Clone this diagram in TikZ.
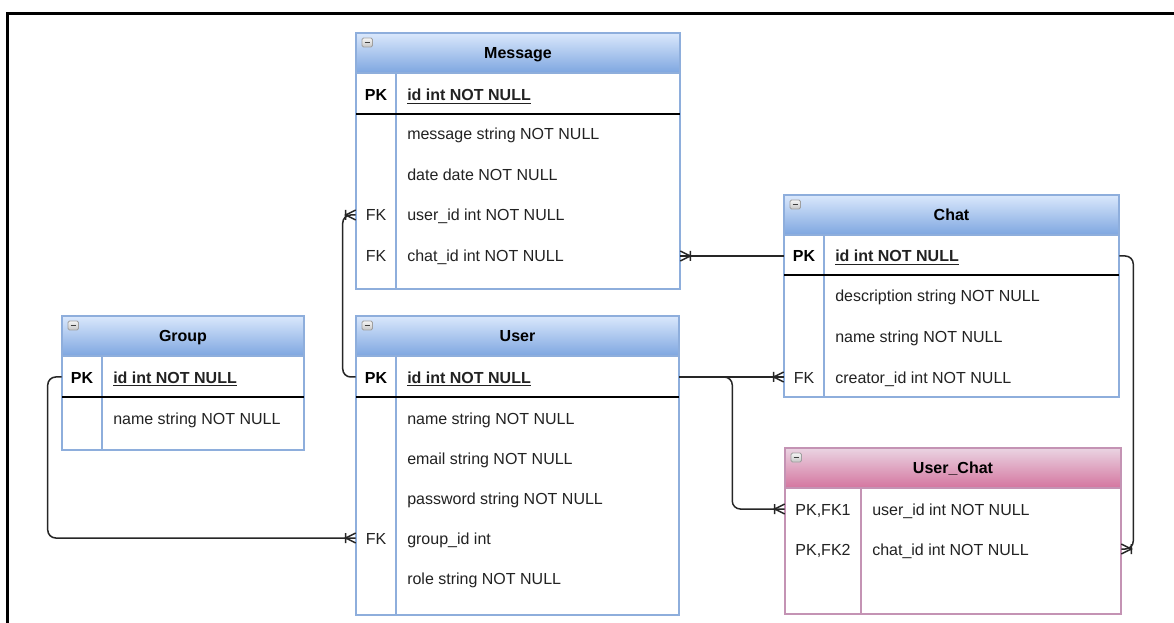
\documentclass[tikz,border=0pt]{standalone}
\usepackage{fontspec}
\setmainfont{Liberation Sans}
\newdimen\erpx \erpx=0.75pt

% crow's foot with a single bar (one-to-many end)
\pgfdeclarearrow{
  name = CrowBar,
  setup code = {
    \pgfarrowssettipend{0pt}
    \pgfarrowssetlineend{0pt}
    \pgfarrowssetbackend{-8pt}
    \pgfarrowssetvisualbackend{-8pt}
    \pgfarrowshullpoint{0pt}{4pt}
    \pgfarrowshullpoint{0pt}{-4pt}
    \pgfarrowshullpoint{-8pt}{4pt}
    \pgfarrowshullpoint{-8pt}{-4pt}
  },
  drawing code = {
    \pgfsetdash{}{0pt}
    \pgfpathmoveto{\pgfqpoint{0pt}{3.75pt}}
    \pgfpathlineto{\pgfqpoint{-7.5pt}{0pt}}
    \pgfpathlineto{\pgfqpoint{0pt}{-3.75pt}}
    \pgfpathmoveto{\pgfqpoint{-7.5pt}{3.75pt}}
    \pgfpathlineto{\pgfqpoint{-7.5pt}{-3.75pt}}
    \pgfusepathqstroke
  }
}

\definecolor{hdtop}{HTML}{DAE8FC}
\definecolor{hdbot}{HTML}{7EA6E0}
\definecolor{bluebd}{HTML}{8EAEDC}
\definecolor{pktop}{HTML}{EAD4E2}
\definecolor{pkbot}{HTML}{D4759F}
\definecolor{pinkbd}{HTML}{C493B4}
\definecolor{txt}{HTML}{222222}

\tikzset{
  hdr/.style={draw=bluebd, line width=1.5\erpx, top color=hdtop, bottom color=hdbot,
    font=\bfseries, text=black, inner sep=0pt, minimum height=40\erpx,
    text height=8.6pt, text depth=0pt},
  hdrpink/.style={hdr, draw=pinkbd, top color=pktop, bottom color=pkbot},
  body/.style={draw=bluebd, line width=1.5\erpx},
  bodypink/.style={draw=pinkbd, line width=1.5\erpx},
  rowbox/.style={inner sep=0pt, minimum height=40\erpx},
  keytxt/.style={anchor=base, inner sep=0pt, text=txt},
  pktxt/.style={keytxt, font=\bfseries, text=black},
  field/.style={anchor=base west, inner sep=0pt, text=txt},
  pkline/.style={black, line width=2\erpx},
  rel/.style={draw=black!85, line width=1.5\erpx, rounded corners=8\erpx, -{CrowBar}},
  collapse/.pic={
    \draw[draw=gray!75, top color=gray!8, bottom color=gray!45,
      rounded corners=1.5\erpx, line width=0.75\erpx] (6,5) rectangle (16.5,14);
    \draw[line width=1.6\erpx, black!75] (8.5,9.5) -- (14,9.5);
  }
}

\begin{document}
\fontsize{12}{14.4}\selectfont
\begin{tikzpicture}[x=0.75pt, y=-0.75pt]
\useasboundingbox[fill=white] (0,0) rectangle (1174,623);

% outer frame
\draw[line width=3\erpx] (7.5,623) -- (7.5,13.5) -- (1174,13.5);

% ---------- Message ----------
\draw[body] (356,73) rectangle (680,289);
\draw[body] (396,73) -- (396,289);
\node[hdr, minimum width=324\erpx] (message) at (518,53) {Message};
\pic at (356,33) {collapse};
\node[rowbox, minimum width=324\erpx] (msg-pk) at (518,95) {};
\node[rowbox, minimum width=324\erpx] (msg-msg) at (518,134) {};
\node[rowbox, minimum width=324\erpx] (msg-date) at (518,175) {};
\node[rowbox, minimum width=324\erpx] (msg-user) at (518,215) {};
\node[rowbox, minimum width=324\erpx] (msg-chat) at (518,256) {};
\draw[pkline] (356,114) -- (680,114);
\node[pktxt] (msg-pk-k) at (376,101) {PK};
\node[field] (msg-pk-f) at (407,101) {\underline{\textbf{id int NOT NULL}}};
\node[field] (msg-msg-f) at (407,140) {message string NOT NULL};
\node[field] (msg-date-f) at (407,181) {date date NOT NULL};
\node[keytxt] (msg-user-k) at (376,221) {FK};
\node[field] (msg-user-f) at (407,221) {user\_id int NOT NULL};
\node[keytxt] (msg-chat-k) at (376,262) {FK};
\node[field] (msg-chat-f) at (407,262) {chat\_id int NOT NULL};

% ---------- Chat ----------
\draw[body] (784,235) rectangle (1119,397);
\draw[body] (824,235) -- (824,397);
\node[hdr, minimum width=335\erpx] (chat) at (951.5,215) {Chat};
\pic at (784,195) {collapse};
\node[rowbox, minimum width=335\erpx] (chat-pk) at (951.5,256) {};
\node[rowbox, minimum width=335\erpx] (chat-desc) at (951.5,296) {};
\node[rowbox, minimum width=335\erpx] (chat-name) at (951.5,337) {};
\node[rowbox, minimum width=335\erpx] (chat-creator) at (951.5,377) {};
\draw[pkline] (784,275) -- (1119,275);
\node[pktxt] (chat-pk-k) at (804,262) {PK};
\node[field] (chat-pk-f) at (835,262) {\underline{\textbf{id int NOT NULL}}};
\node[field] (chat-desc-f) at (835,302) {description string NOT NULL};
\node[field] (chat-name-f) at (835,343) {name string NOT NULL};
\node[keytxt] (chat-creator-k) at (804,383) {FK};
\node[field] (chat-creator-f) at (835,383) {creator\_id int NOT NULL};

% ---------- Group ----------
\draw[body] (62,356) rectangle (304,450);
\draw[body] (102,356) -- (102,450);
\node[hdr, minimum width=242\erpx] (group) at (183,336) {Group};
\pic at (62,316) {collapse};
\node[rowbox, minimum width=242\erpx] (grp-pk) at (183,377) {};
\node[rowbox, minimum width=242\erpx] (grp-name) at (183,418) {};
\draw[pkline] (62,397) -- (304,397);
\node[pktxt] (grp-pk-k) at (82,383) {PK};
\node[field] (grp-pk-f) at (113,383) {\underline{\textbf{id int NOT NULL}}};
\node[field] (grp-name-f) at (113,424) {name string NOT NULL};

% ---------- User ----------
\draw[body] (356,356) rectangle (679,615);
\draw[body] (396,356) -- (396,615);
\node[hdr, minimum width=323\erpx] (user) at (517.5,336) {User};
\pic at (356,316) {collapse};
\node[rowbox, minimum width=323\erpx] (user-pk) at (517.5,377) {};
\node[rowbox, minimum width=323\erpx] (user-name) at (517.5,418) {};
\node[rowbox, minimum width=323\erpx] (user-email) at (517.5,458) {};
\node[rowbox, minimum width=323\erpx] (user-pass) at (517.5,498) {};
\node[rowbox, minimum width=323\erpx] (user-group) at (517.5,538) {};
\node[rowbox, minimum width=323\erpx] (user-role) at (517.5,578) {};
\draw[pkline] (356,397) -- (679,397);
\node[pktxt] (user-pk-k) at (376,383) {PK};
\node[field] (user-pk-f) at (407,383) {\underline{\textbf{id int NOT NULL}}};
\node[field] (user-name-f) at (407,424) {name string NOT NULL};
\node[field] (user-email-f) at (407,464) {email string NOT NULL};
\node[field] (user-pass-f) at (407,504) {password string NOT NULL};
\node[keytxt] (user-group-k) at (376,544) {FK};
\node[field] (user-group-f) at (407,544) {group\_id int};
\node[field] (user-role-f) at (407,584) {role string NOT NULL};

% ---------- User_Chat ----------
\draw[bodypink] (785,488) rectangle (1121,614);
\draw[bodypink] (861,488) -- (861,614);
\node[hdrpink, minimum width=336\erpx] (userchat) at (953,468) {User\_Chat};
\pic at (785,448) {collapse};
\node[rowbox, minimum width=336\erpx] (uc-user) at (953,509) {};
\node[rowbox, minimum width=336\erpx] (uc-chat) at (953,549) {};
\node[keytxt] (uc-user-k) at (823,515) {PK,FK1};
\node[field] (uc-user-f) at (872,515) {user\_id int NOT NULL};
\node[keytxt] (uc-chat-k) at (823,555) {PK,FK2};
\node[field] (uc-chat-f) at (872,555) {chat\_id int NOT NULL};

% ---------- relationships ----------
\draw[rel] (user-pk.west) -- ++(-13,0) |- (msg-user.west);
\draw[rel] (chat-pk.west) -- (msg-chat.east);
\draw[rel] (user-pk.east) -- (chat-creator.west);
\draw[rel] (user-pk.east) -- ++(53,0) |- (uc-user.west);
\draw[rel] (grp-pk.west) -- ++(-14,0) |- (user-group.west);
\draw[rel] (chat-pk.east) -- ++(14,0) |- (uc-chat.east);
\end{tikzpicture}
\end{document}
